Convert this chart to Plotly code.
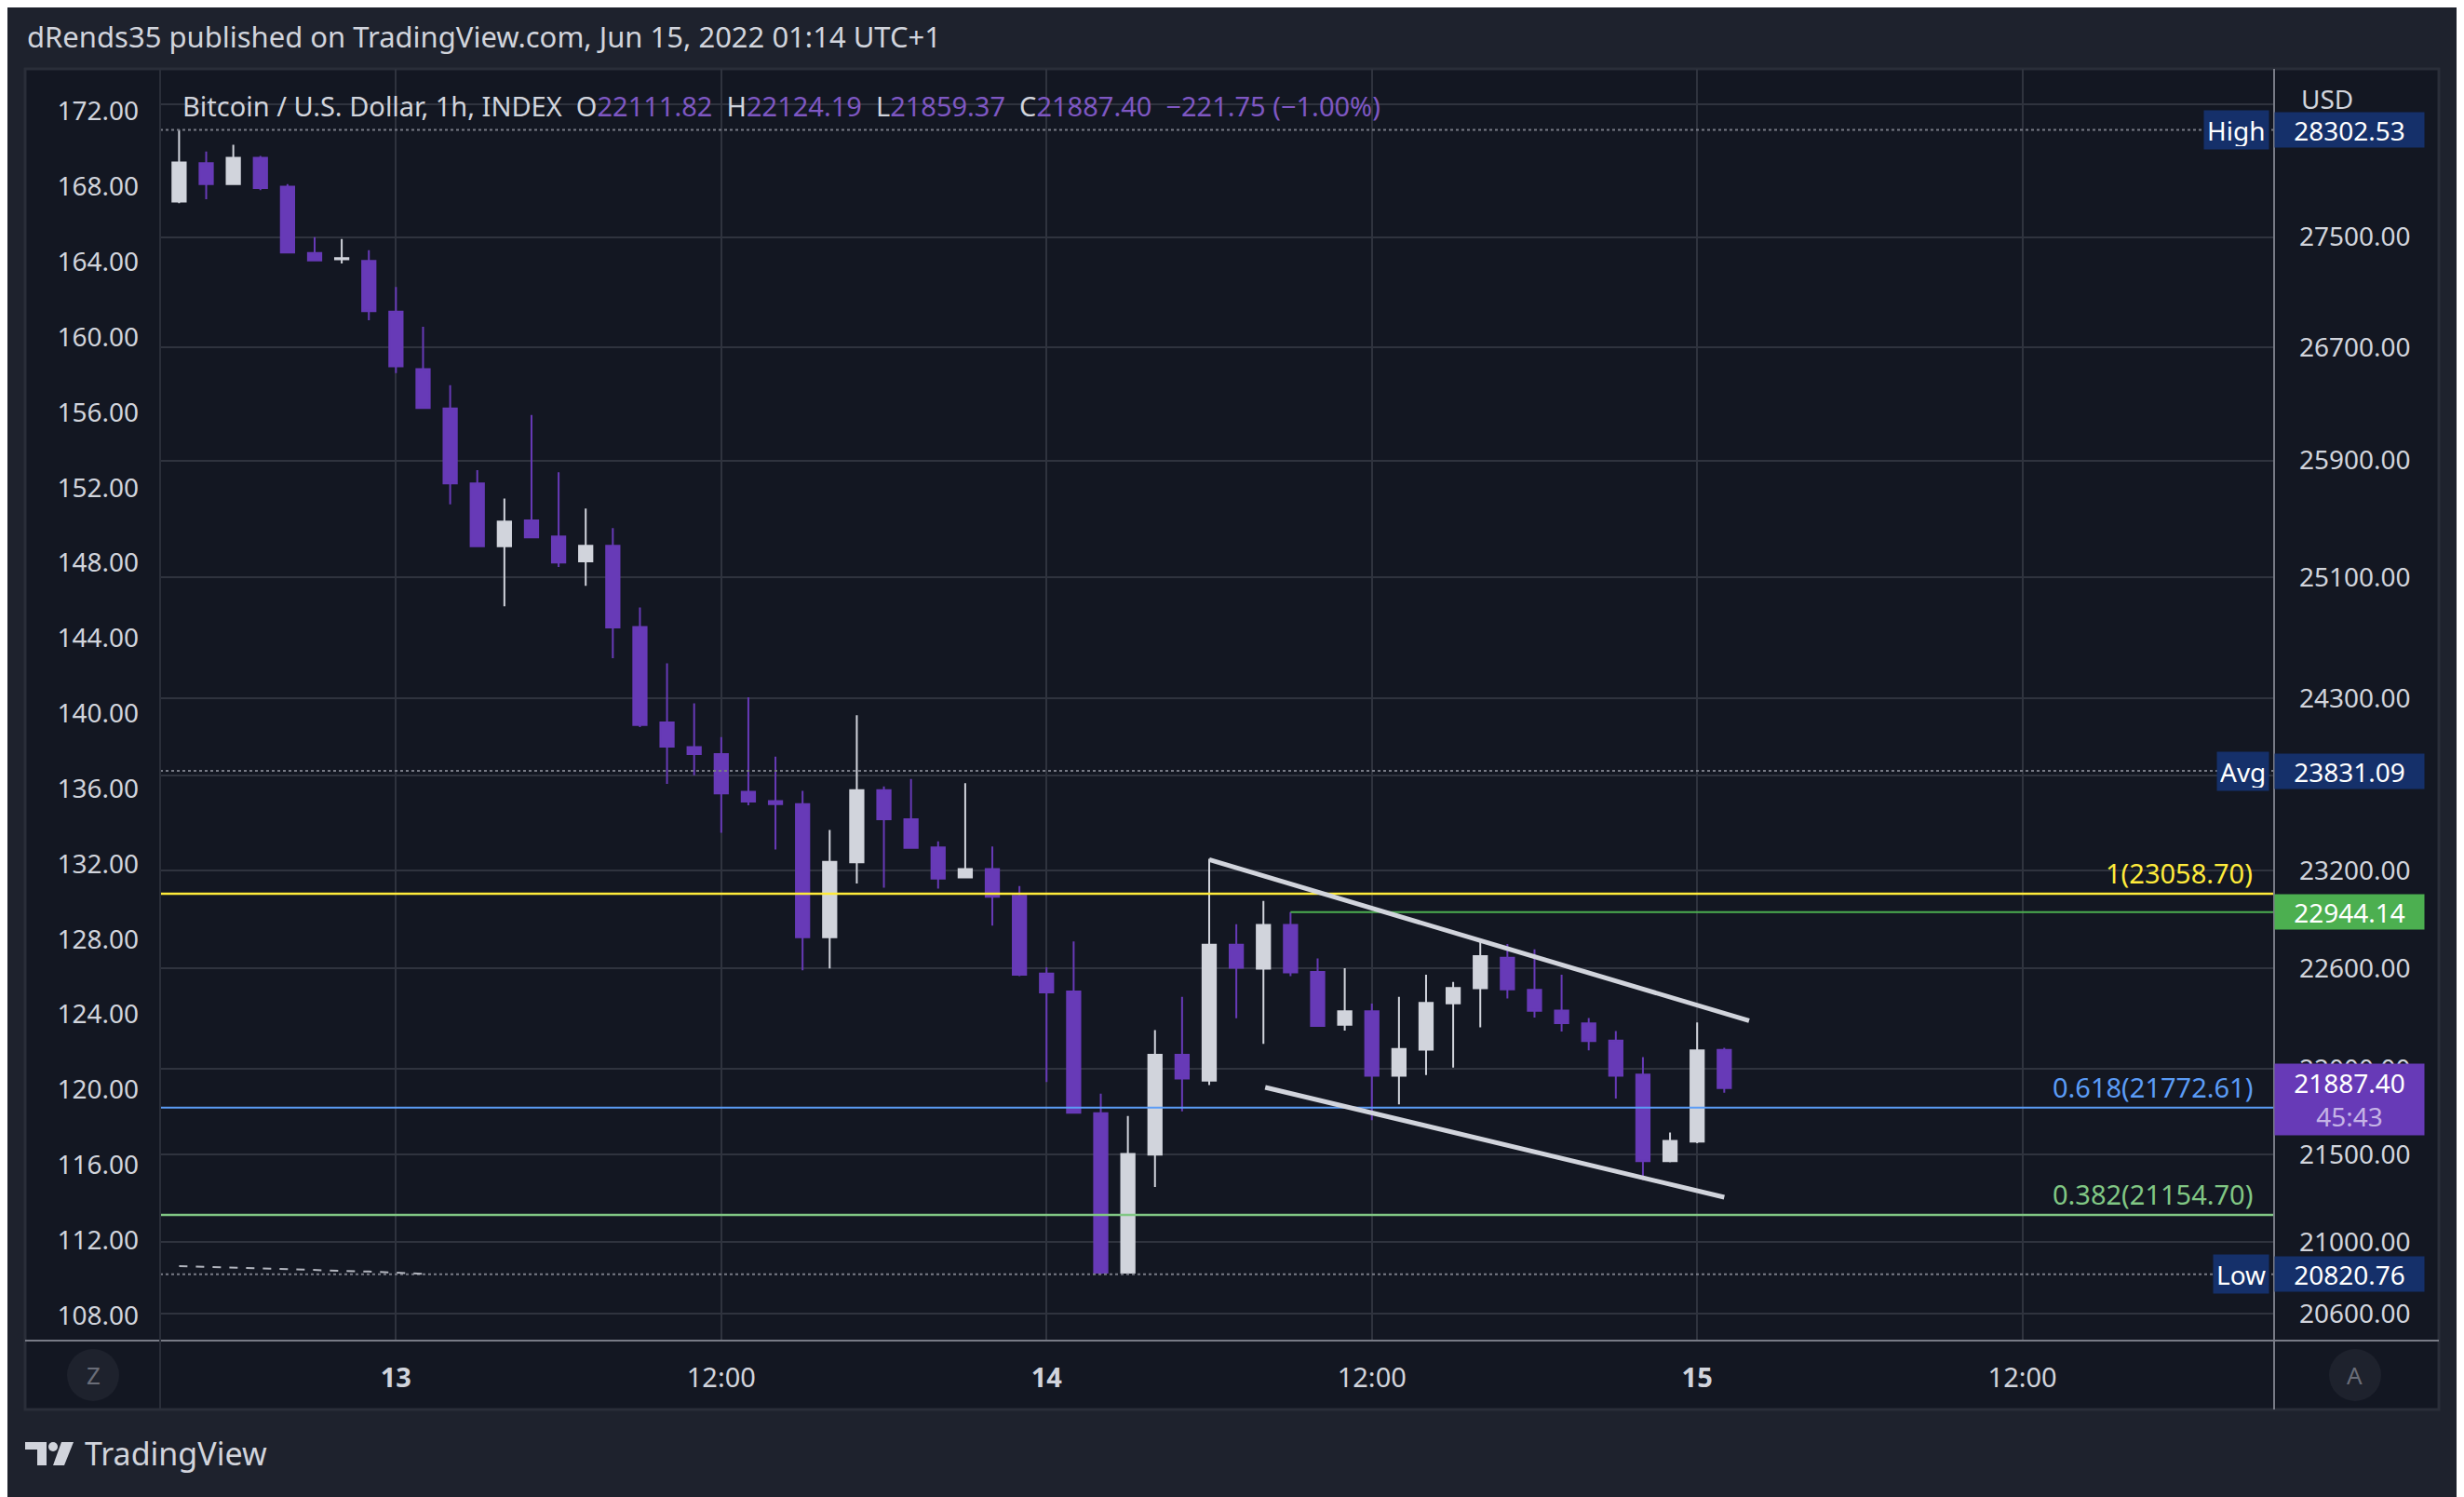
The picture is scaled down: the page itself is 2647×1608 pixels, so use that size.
import math
import pandas as pd
import plotly.graph_objects as go

# ---------------- data ----------------
start_time = "2022-06-12 15:00"
opens = [27260, 27764, 28051, 27894, 28092, 27874, 27383, 27337, 27325, 26956,
         26543, 26264, 25741, 25311, 25487, 25377, 25208, 25314, 24768, 24143,
         23983, 23939, 23697, 23639, 23619, 22790, 23253, 23708, 23524, 23347,
         23159, 23212, 23045, 22570, 22461, 21740, 20830, 21500, 22083, 21930,
         22745, 22599, 22866, 22579, 22262, 22343, 21959, 22114, 22390, 22481,
         22665, 22471, 22347, 22270, 22168, 21966, 21462, 21575, 22111.82]
highs = [27763, 28302.53, 28138, 28189, 28105, 27894, 27500, 27485, 27403, 27134,
         26846, 26428, 25833, 25637, 26219, 25818, 25568, 25435, 24899, 24529,
         24266, 24048, 24306, 23922, 23704, 23456, 24190, 23731, 23779, 23384,
         23752, 23352, 23106, 22608, 22765, 21854, 21724, 22230, 22429, 23275,
         22871, 23014, 22944.14, 22661, 22602, 22388, 22429, 22562, 22519, 22765,
         22750, 22716, 22562, 22302, 22224, 22070, 21627, 22275, 22124.19]
lows = [27260, 27752, 27781, 27886, 27849, 27387, 27329, 27306, 26894, 26514,
        26267, 25597, 25311, 24907, 25372, 25171, 25044, 24563, 24112, 23748,
        23803, 23439, 23612, 23333, 22590, 22600, 23122, 23096, 23344, 23090,
        23159, 22862, 22554, 21923, 21743, 20820.76, 20821, 21313, 21750, 21904,
        22300, 22148, 22554, 22255, 22227, 21699, 21791, 21964, 22007, 22247,
        22419, 22305, 22222, 22109, 21825, 21354, 21455, 21565, 21859.37]
closes = [27763, 28056, 27894, 28092, 27865, 27387, 27329, 27345, 26959, 26562,
          26267, 25741, 25311, 25479, 25372, 25201, 25314, 24765, 24126, 23986,
          23939, 23687, 23636, 23619, 22790, 23257, 23708, 23524, 23344, 23152,
          23212, 23040, 22562, 22456, 21743, 20830, 21503, 22083, 21943, 22745,
          22605, 22866, 22577, 22255, 22343, 21959, 22118, 22393, 22483, 22676,
          22474, 22345, 22272, 22164, 21959, 21462, 21579, 22110, 21887.40]
change_text = "−221.75 (−1.00%)"

# secondary (left) scale series
left_times = ["2022-06-12 16:00", "2022-06-12 17:00", "2022-06-12 18:00", "2022-06-12 19:00",
              "2022-06-12 20:00", "2022-06-12 21:00", "2022-06-12 22:00", "2022-06-12 23:00",
              "2022-06-13 00:00", "2022-06-13 01:00"]
left_values = [110.62, 110.58, 110.55, 110.51, 110.47, 110.42, 110.38, 110.33, 110.27, 110.21]
left_ticks = [108, 112, 116, 120, 124, 128, 132, 136, 140, 144, 148, 152, 156, 160, 164, 168, 172]

right_ticks = [20600, 21000, 21500, 22000, 22600, 23200, 23800, 24300, 25100, 25900, 26700, 27500, 28500]
right_tick_text = ["20600.00", "21000.00", "21500.00", "22000.00", "22600.00", "23200.00", "",
                   "24300.00", "25100.00", "25900.00", "26700.00", "27500.00", ""]

x_ticks = ["2022-06-13 00:00", "2022-06-13 12:00", "2022-06-14 00:00",
           "2022-06-14 12:00", "2022-06-15 00:00", "2022-06-15 12:00"]
x_tick_text = ["<b>13</b>", "12:00", "<b>14</b>", "12:00", "<b>15</b>", "12:00"]

high_val, avg_val, low_val = 28302.53, 23831.09, 20820.76
fib_1, fib_618, fib_382 = 23058.70, 21772.61, 21154.70
green_level, green_start = 22944.14, "2022-06-14 09:00"
last_price = 21887.40

upper_trend_t = ["2022-06-14 06:00", "2022-06-15 01:55"]
upper_trend_p = [23270, 22286]
lower_trend_t = ["2022-06-14 08:04", "2022-06-15 01:00"]
lower_trend_p = [21891, 21255]

x_start, x_end = "2022-06-12 15:18", "2022-06-15 21:17"

# ---------------- styling ----------------
BG_OUT = "#1e222d"
BG = "#131722"
GRID = "#2f333e"
TXT = "#d1d4dc"
PURPLE = "#673ab7"
WHITE = "#d1d4dc"
NAVY = "#15306a"
FONT = "Noto Sans"

OFF = 8  # page body margin
W, H = 2647 - OFF, 1608 - OFF
ML, MT = 172 - OFF, 74 - OFF
MR = W - (2443 - OFF)
MB = H - (1440 - OFF)
PW, PH = W - ML - MR, H - MT - MB


def px(xp):
    return (xp - OFF - ML) / PW


def py(yp):
    return (H - MB - (yp - OFF)) / PH


times = pd.date_range(start_time, periods=len(opens), freq="h")

fig = go.Figure()
fig.add_trace(go.Candlestick(
    x=times, open=opens, high=highs, low=lows, close=closes,
    increasing=dict(line=dict(color=WHITE, width=2), fillcolor=WHITE),
    decreasing=dict(line=dict(color=PURPLE, width=2), fillcolor=PURPLE),
    whiskerwidth=0, hoverinfo="skip", showlegend=False, yaxis="y"))

full_x = [x_start, x_end]


def hline(xs, val, color, dash="solid", width=2):
    fig.add_trace(go.Scatter(x=xs, y=[val, val], mode="lines",
                             line=dict(color=color, dash=dash, width=width),
                             hoverinfo="skip", showlegend=False, yaxis="y"))


hline(full_x, high_val, "#787b86", "dot", 2)
hline(full_x, avg_val, "#787b86", "dot", 2)
hline(full_x, low_val, "#787b86", "dot", 2)
hline(full_x, fib_1, "#ffeb3b", "solid", 2.5)
hline([green_start, x_end], green_level, "#4caf50", "solid", 2)
hline(full_x, fib_618, "#5b9cf6", "solid", 2)
hline(full_x, fib_382, "#81c784", "solid", 2.5)

for tt, pp in [(upper_trend_t, upper_trend_p), (lower_trend_t, lower_trend_p)]:
    fig.add_trace(go.Scatter(x=tt, y=pp, mode="lines", line=dict(color=WHITE, width=5),
                             hoverinfo="skip", showlegend=False, yaxis="y"))

fig.add_trace(go.Scatter(x=left_times, y=left_values, mode="lines",
                         line=dict(color="#b2b5be", dash="dash", width=2),
                         hoverinfo="skip", showlegend=False, yaxis="y2"))

fig.update_layout(
    width=W, height=H,
    margin=dict(l=ML, r=MR, t=MT, b=MB),
    paper_bgcolor=BG_OUT, plot_bgcolor=BG,
    font=dict(family=FONT, color=TXT, size=28),
    xaxis=dict(range=full_x, type="date", rangeslider=dict(visible=False),
               tickvals=x_ticks, ticktext=x_tick_text, showgrid=True, gridcolor=GRID,
               gridwidth=2, zeroline=False, ticks="", ticklabelstandoff=20,
               tickfont=dict(size=29, color=TXT), showline=False),
    yaxis=dict(type="log", range=[4.31076, 4.45893], side="right",
               tickvals=right_ticks, ticktext=right_tick_text, showgrid=True,
               gridcolor=GRID, gridwidth=2, zeroline=False, ticks="",
               ticklabelstandoff=26, tickfont=dict(size=28, color=TXT)),
    yaxis2=dict(range=[106.66, 174.26], overlaying="y", side="left",
                tickvals=left_ticks, ticktext=[f"{v:.2f}" for v in left_ticks],
                showgrid=False, zeroline=False, ticks="", ticklabelstandoff=22,
                tickfont=dict(size=28, color=TXT)),
)

shapes = [
    dict(type="rect", xref="paper", yref="paper", x0=px(27), x1=px(2620), y0=py(1514), y1=py(74),
         fillcolor=BG, line=dict(color="#2a2e39", width=3), layer="below"),
    dict(type="line", xref="paper", yref="paper", x0=1, x1=1, y0=py(1514), y1=1,
         line=dict(color="#787b86", width=2)),
    dict(type="line", xref="paper", yref="paper", x0=px(27), x1=px(2620), y0=0, y1=0,
         line=dict(color="#787b86", width=2)),
    dict(type="line", xref="paper", yref="paper", x0=0, x1=0, y0=py(1514), y1=1,
         line=dict(color="#2a2e39", width=2)),
    dict(type="circle", xref="paper", yref="paper", x0=px(72), x1=px(128), y0=py(1505), y1=py(1449),
         fillcolor="#1e222d", line=dict(width=0)),
    dict(type="circle", xref="paper", yref="paper", x0=px(2502), x1=px(2558), y0=py(1505), y1=py(1449),
         fillcolor="#1e222d", line=dict(width=0)),
    # TradingView logo
    dict(type="path", xref="paper", yref="paper",
         path=f"M {px(27)} {py(1549)} L {px(50)} {py(1549)} L {px(50)} {py(1574)} L {px(40)} {py(1574)} "
              f"L {px(40)} {py(1557)} L {px(27)} {py(1557)} Z",
         fillcolor=TXT, line=dict(width=0)),
    dict(type="circle", xref="paper", yref="paper", x0=px(52), x1=px(62), y0=py(1559), y1=py(1549),
         fillcolor=TXT, line=dict(width=0)),
    dict(type="path", xref="paper", yref="paper",
         path=f"M {px(66)} {py(1549)} L {px(79)} {py(1549)} L {px(69)} {py(1574)} L {px(57)} {py(1574)} Z",
         fillcolor=TXT, line=dict(width=0)),
]
fig.update_layout(shapes=shapes)

ann = []


def paper_text(x, y, text, size, color=TXT, xanchor="left"):
    ann.append(dict(xref="paper", yref="paper", x=px(x), y=py(y), xanchor=xanchor, yanchor="middle",
                    text=text, showarrow=False, font=dict(size=size, color=color)))


paper_text(27, 39, "dRends35 published on TradingView.com, Jun 15, 2022 01:14 UTC+1", 31)
val = "#7e57c2"
legend = (f"Bitcoin / U.S. Dollar, 1h, INDEX  O<span style='color:{val}'>{opens[-1]:.2f}</span>  "
          f"H<span style='color:{val}'>{highs[-1]:.2f}</span>  "
          f"L<span style='color:{val}'>{lows[-1]:.2f}</span>  "
          f"C<span style='color:{val}'>{closes[-1]:.2f}  {change_text}</span>")
paper_text(194, 113, legend, 29)
paper_text(2470, 106, "USD", 28)
paper_text(100, 1477, "Z", 26, "#6a6d78", "center")
paper_text(2530, 1477, "A", 26, "#6a6d78", "center")
paper_text(89, 1561, "TradingView", 34)

VX = px(2524)
for v, bg in [(high_val, NAVY), (avg_val, NAVY), (low_val, NAVY), (green_level, "#4caf50")]:
    ann.append(dict(xref="paper", yref="y", x=VX, xanchor="center", yanchor="middle", y=math.log10(v),
                    text=f"{v:.2f}", showarrow=False,
                    bgcolor=bg, width=158, height=35, font=dict(size=28, color="#ffffff")))
for name, v in [("High", high_val), ("Avg", avg_val), ("Low", low_val)]:
    ann.append(dict(xref="paper", yref="y", x=px(2438), xanchor="right", yanchor="middle",
                    y=math.log10(v), text=name, showarrow=False, bgcolor=NAVY, height=35,
                    borderpad=3, font=dict(size=28, color="#ffffff")))
ann.append(dict(xref="paper", yref="y", x=VX, xanchor="center", yanchor="middle",
                y=math.log10(last_price), yshift=-12,
                text=f"{last_price:.2f}<br><span style='color:#c5b3e6'>45:43</span>", showarrow=False,
                bgcolor=PURPLE, width=158, height=74, font=dict(size=28, color="#ffffff")))
for lbl, v, c in [(f"1({fib_1:.2f})", fib_1, "#ffeb3b"), (f"0.618({fib_618:.2f})", fib_618, "#5b9cf6"),
                  (f"0.382({fib_382:.2f})", fib_382, "#81c784")]:
    ann.append(dict(xref="paper", yref="y", x=px(2422), xanchor="right", y=math.log10(v),
                    yanchor="bottom", yshift=1, text=lbl, showarrow=False, font=dict(size=29, color=c)))
fig.update_layout(annotations=ann)

fig.write_html("out.html")
